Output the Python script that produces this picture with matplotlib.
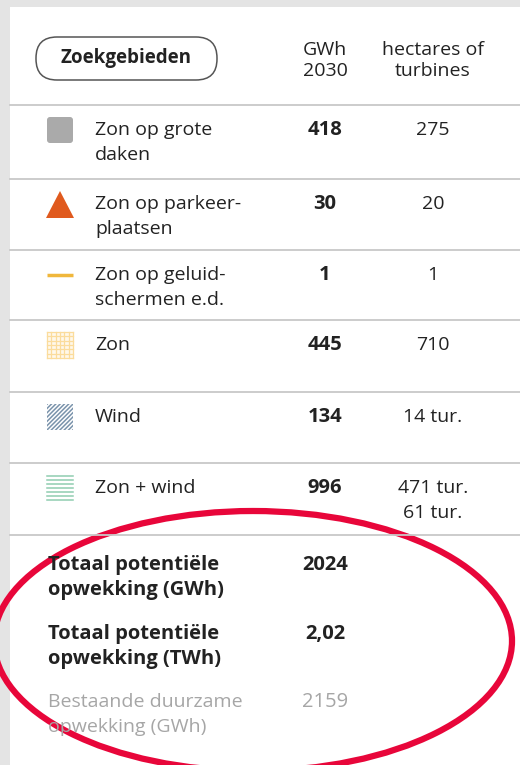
import matplotlib
matplotlib.use('Agg')
import matplotlib.pyplot as plt
from matplotlib.patches import FancyBboxPatch, Rectangle, Polygon, Ellipse

plt.rcParams['font.family'] = ['Open Sans', 'DejaVu Sans']

# table data
labels = ['Zon op grote\ndaken', 'Zon op parkeer-\nplaatsen', 'Zon op geluid-\nschermen e.d.',
          'Zon', 'Wind', 'Zon + wind']
gwh = ['418', '30', '1', '445', '134', '996']
hectares = ['275', '20', '1', '710', '14 tur.', '471 tur.\n61 tur.']
icons = ['square', 'triangle', 'line', 'grid', 'diag', 'hlines']

total_labels = ['Totaal potentiële\nopwekking (GWh)', 'Totaal potentiële\nopwekking (TWh)',
                'Bestaande duurzame\nopwekking (GWh)']
total_values = ['2024', '2,02', '2159']

fig = plt.figure(figsize=(5.2, 7.65), dpi=100)
ax = fig.add_axes([0, 0, 1, 1])
ax.set_xlim(0, 520)
ax.set_ylim(765, 0)
ax.axis('off')

# grey frame
ax.add_patch(Rectangle((0, 0), 520, 7, color='#e4e4e4', lw=0))
ax.add_patch(Rectangle((0, 0), 10, 765, color='#e4e4e4', lw=0))

dark = '#222222'
col_gwh = 325
col_ha = 433
fs = 14
step = 25


def multiline(x, y, s, ha='left', **kw):
    for j, part in enumerate(s.split('\n')):
        ax.text(x, y + j * step, part, ha=ha, va='center', **kw)


# header
ax.add_patch(FancyBboxPatch((36, 37), 181, 43, boxstyle='round,pad=0,rounding_size=21',
                            fc='white', ec='#555555', lw=1.1))
ax.text(126, 58, 'Zoekgebieden', ha='center', va='center', fontsize=13.5,
        fontweight='bold', color=dark)
for j, (a, b) in enumerate([('GWh', 'hectares of'), ('2030', 'turbines')]):
    ax.text(col_gwh, 50 + j * 21, a, ha='center', va='center', fontsize=fs, color=dark)
    ax.text(col_ha, 50 + j * 21, b, ha='center', va='center', fontsize=fs, color=dark)

lines_y = [105, 179, 250, 320, 392, 463, 535]
for y in lines_y:
    ax.plot([10, 520], [y, y], color='#c8c8c8', lw=1.3)

for i, (lab, g, h, ic) in enumerate(zip(labels, gwh, hectares, icons)):
    ty = lines_y[i] + 25
    multiline(95, ty, lab, fontsize=fs, color=dark)
    ax.text(col_gwh, ty, g, ha='center', va='center', fontsize=fs + 0.5,
            fontweight='bold', color=dark)
    multiline(col_ha, ty, h, ha='center', fontsize=fs, color=dark)
    cx, cy = 60, ty
    if ic == 'square':
        ax.add_patch(FancyBboxPatch((47, cy - 13), 26, 26,
                                    boxstyle='round,pad=0,rounding_size=3',
                                    fc='#aaaaaa', ec='none'))
    elif ic == 'triangle':
        ax.add_patch(Polygon([(46, cy + 14), (74, cy + 14), (60, cy - 13)],
                             closed=True, fc='#e05a1e', ec='none'))
    elif ic == 'line':
        ax.plot([47, 73], [cy, cy], color='#f0b73c', lw=2.5, solid_capstyle='butt')
    elif ic == 'grid':
        ax.add_patch(Rectangle((47, cy - 13), 26, 26, fc='#fff8ea', ec='none'))
        for k in range(7):
            ax.plot([47 + k * 26 / 6, 47 + k * 26 / 6], [cy - 13, cy + 13],
                    color='#fbdc9c', lw=0.9)
            ax.plot([47, 73], [cy - 13 + k * 26 / 6, cy - 13 + k * 26 / 6],
                    color='#fbdc9c', lw=0.9)
    elif ic == 'diag':
        r = Rectangle((47, cy - 13), 26, 26, fc='none', ec='none')
        ax.add_patch(r)
        for k in range(-6, 7):
            off = k * 4.3
            ln, = ax.plot([47 + off, 73 + off], [cy + 13, cy - 13],
                          color='#7a93ab', lw=1.1)
            ln.set_clip_path(r)
    elif ic == 'hlines':
        for k in range(7):
            yy = cy - 12 + k * 4
            ax.plot([47, 73], [yy, yy], color='#8fcdb0', lw=1.1)

# totals
tot_y = [565, 634, 702]
for lab, v, y, k in zip(total_labels, total_values, tot_y, range(3)):
    c = dark if k < 2 else '#a6a6a6'
    w = 'bold' if k < 2 else 'normal'
    multiline(48, y, lab, fontsize=fs + (0.5 if k < 2 else 0), color=c, fontweight=w)
    ax.text(col_gwh, y, v, ha='center', va='center', fontsize=fs + 0.5, color=c,
            fontweight=w)

# red circle annotation
ax.add_patch(Ellipse((253, 641), 518, 260, fc='none', ec='#e8063a', lw=4.5))

fig.savefig('out.png', dpi=100)
